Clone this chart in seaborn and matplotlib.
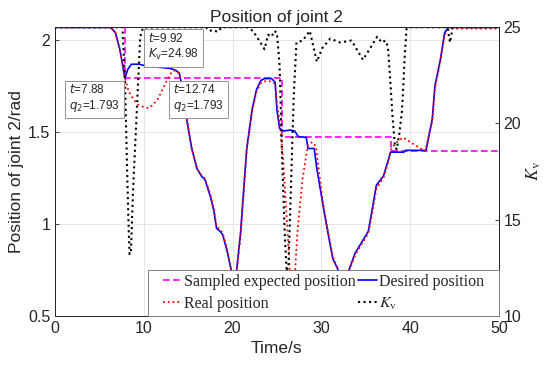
import matplotlib
matplotlib.use("Agg")
import matplotlib.pyplot as plt
from matplotlib.patches import Rectangle
import seaborn as sns
import numpy as np
import pandas as pd

# data
t_sampled = [0, 7.88, 7.88, 25.55, 25.55, 37.8, 37.8, 50]
q_sampled = [2.068, 2.068, 1.793, 1.793, 1.47, 1.47, 1.398, 1.398]

t_desired = [0, 6.3, 6.8, 7.3, 7.88, 8.2, 8.6, 9.5, 10.5, 12.0, 13.0, 13.6, 14.0, 14.3, 14.8,
             15.4, 16.0, 16.5, 16.9, 17.5, 17.9, 18.2, 18.6, 18.9, 19.4, 19.8, 20.1, 20.4,
             20.9, 21.6, 22.2, 22.7, 23.2, 23.6, 24.4, 24.8, 25.0, 25.3, 25.7, 26.5, 27.0,
             27.4, 28.3, 28.5, 29.2, 29.5, 30.2, 30.6, 31.3, 31.8, 32.3, 32.8, 33.2, 33.8,
             34.3, 35.3, 35.7, 36.2, 37.0, 37.5, 37.8, 39.3, 39.5, 41.8, 42.5, 42.8, 43.4,
             43.9, 44.3, 50]
q_desired = [2.068, 2.068, 2.04, 1.95, 1.793, 1.84, 1.868, 1.868, 1.855, 1.85, 1.845, 1.835,
             1.82, 1.75, 1.58, 1.41, 1.30, 1.26, 1.24, 1.15, 1.07, 0.975, 0.96, 0.94, 0.85,
             0.76, 0.70, 0.72, 0.95, 1.41, 1.62, 1.73, 1.78, 1.79, 1.79, 1.77, 1.62, 1.52,
             1.505, 1.51, 1.505, 1.475, 1.47, 1.41, 1.41, 1.30, 1.10, 0.99, 0.81, 0.76, 0.70,
             0.71, 0.76, 0.84, 0.88, 0.96, 1.07, 1.21, 1.26, 1.34, 1.39, 1.39, 1.40, 1.40,
             1.57, 1.75, 1.89, 2.04, 2.068, 2.068]

t_real = [0, 6.3, 6.8, 7.3, 7.88, 8.3, 8.8, 9.3, 10.0, 10.5, 11.0, 11.6, 12.2, 12.74, 13.2,
          13.6, 14.0, 14.3, 14.8, 15.4, 16.0, 16.5, 16.9, 17.5, 17.9, 18.2, 18.6, 18.9, 19.4,
          19.8, 20.1, 20.4, 20.9, 21.6, 22.2, 22.7, 23.2, 23.6, 24.4, 24.8, 25.0, 25.3, 25.7,
          26.2, 26.6, 26.9, 27.3, 27.9, 28.5, 29.0, 29.4, 29.7, 30.2, 30.6, 31.3, 31.8, 32.3,
          32.8, 33.2, 33.8, 34.3, 35.3, 35.7, 36.2, 37.0, 37.5, 37.8, 38.4, 39.2, 40.5, 41.7,
          42.5, 42.8, 43.4, 43.9, 44.4, 50]
q_real = [2.068, 2.068, 2.04, 1.95, 1.793, 1.72, 1.68, 1.65, 1.635, 1.63, 1.645, 1.68, 1.74,
          1.793, 1.83, 1.835, 1.815, 1.75, 1.58, 1.41, 1.30, 1.265, 1.245, 1.16, 1.08, 0.985,
          0.97, 0.95, 0.86, 0.76, 0.70, 0.71, 0.93, 1.40, 1.61, 1.72, 1.765, 1.775, 1.775,
          1.76, 1.65, 1.56, 1.35, 0.95, 0.62, 0.62, 0.95, 1.25, 1.43, 1.445, 1.42, 1.30, 1.11,
          1.00, 0.82, 0.765, 0.71, 0.71, 0.75, 0.83, 0.87, 0.95, 1.05, 1.19, 1.25, 1.33, 1.40,
          1.44, 1.47, 1.43, 1.395, 1.56, 1.74, 1.88, 2.03, 2.062, 2.062]

t_kv = [0, 7.6, 7.9, 8.1, 8.3, 8.4, 8.55, 8.8, 9.2, 9.6, 9.92, 17.0, 17.4, 17.8, 18.3, 18.8,
        21.6, 22.3, 23.0, 23.6, 24.0, 24.4, 24.7, 25.0, 25.3, 25.6, 25.9, 26.1, 26.3, 26.6,
        26.9, 27.2, 27.9, 28.7, 29.5, 30.1, 31.0, 32.1, 33.4, 34.7, 36.3, 36.8, 37.2, 37.5,
        37.8, 38.0, 38.3, 38.5, 38.8, 39.1, 39.4, 39.6, 39.8, 44.2, 44.5, 44.8, 50]
kv = [24.99, 24.99, 22.0, 18.0, 14.5, 13.2, 13.3, 16.6, 20.5, 24.5, 24.98, 24.99, 24.8, 24.85,
      24.75, 24.99, 24.99, 24.8, 24.3, 23.85, 24.6, 24.5, 24.8, 24.7, 23.0, 18.0, 14.0, 12.3,
      12.6, 17.0, 21.5, 24.2, 24.3, 24.8, 23.2, 23.9, 24.4, 24.2, 24.3, 23.3, 24.5, 24.2, 24.3,
      24.0, 22.0, 20.5, 18.8, 18.65, 19.5, 20.7, 23.5, 24.9, 24.99, 24.99, 24.2, 24.99, 24.99]

# data tips: (t, value, text, which axis, side of the box)
tips = [(7.88, 1.793, "$t$=7.88\n$q_2$=1.793", "left", "right"),
        (12.74, 1.793, "$t$=12.74\n$q_2$=1.793", "left", "left"),
        (9.92, 24.98, "$t$=9.92\n$K_{\\rm v}$=24.98", "right", "left")]

sns.set_style("white")
plt.rcParams['font.family'] = ['Liberation Sans', 'DejaVu Sans']
plt.rcParams['mathtext.fontset'] = 'stix'

fig, ax = plt.subplots(figsize=(5.5, 3.66), dpi=100)
fig.subplots_adjust(left=0.1, right=0.907, top=0.926, bottom=0.137)
ax2 = ax.twinx()

sns.lineplot(x=t_sampled, y=q_sampled, ax=ax, color='#ff00ff', lw=1.2, sort=False,
             estimator=None, label='Sampled expected position', legend=False)
ax.lines[-1].set_dashes([4, 2])
sns.lineplot(x=t_desired, y=q_desired, ax=ax, color='#0000ff', lw=1.2, sort=False,
             estimator=None, label='Desired position', legend=False)
sns.lineplot(x=t_real, y=q_real, ax=ax, color='#ff0000', lw=1.3, sort=False,
             estimator=None, label='Real position', legend=False)
ax.lines[-1].set_linestyle(':')
sns.lineplot(x=t_kv, y=kv, ax=ax2, color='black', lw=1.5, sort=False,
             estimator=None, label='$K_{\\rm v}$', legend=False)
ax2.lines[-1].set_linestyle(':')

ax.set_xlim(0, 50)
ax.set_ylim(0.5, 2.07)
ax2.set_ylim(10, 25)
ax.set_xticks([0, 10, 20, 30, 40, 50])
ax.set_yticks([0.5, 1, 1.5, 2])
ax.set_yticklabels(['0.5', '1', '1.5', '2'])
ax2.set_yticks([10, 15, 20, 25])
ax.grid(True, color='#e6e6e6', lw=0.7)
for a in (ax, ax2):
    a.tick_params(direction='in', length=3, labelsize=11.5, colors='#262626', width=0.6)
    for s in a.spines.values():
        s.set_color('#262626')
        s.set_linewidth(0.7)

ax.set_title('Position of joint 2', fontsize=12.5, pad=4)
ax.set_xlabel('Time/s', fontsize=12.5, labelpad=4)
ax.set_ylabel('Position of joint 2/rad', fontsize=12.5, labelpad=3)
ax2.set_ylabel('$K_{\\rm v}$', fontsize=13, labelpad=2)

# legend: white box in the lower right corner, entries centred in it
box_x0, box_h = 0.2095, 0.159
ax2.add_patch(Rectangle((box_x0, 0), 1 - box_x0, box_h, transform=ax2.transAxes,
                        fc='white', ec='#808080', lw=0.7, zorder=4, clip_on=False))
h1, l1 = ax.get_legend_handles_labels()
h2, l2 = ax2.get_legend_handles_labels()
handles = [h1[0], h1[2], h1[1], h2[0]]
labels = [l1[0], l1[2], l1[1], l2[0]]
leg = ax2.legend(handles, labels, ncol=2, loc='center',
                 bbox_to_anchor=(box_x0, 0, 1 - box_x0, box_h), borderaxespad=0,
                 prop={'family': 'Liberation Serif', 'size': 11.5}, handlelength=1.2,
                 handletextpad=0.15, columnspacing=0.1, frameon=False, borderpad=0,
                 labelspacing=0.35)
leg.set_zorder(6)

for tx, ty, txt, axis, side in tips:
    yy = ty if axis == "right" else 10 + (ty - 0.5) / 1.57 * 15
    dx = 5 if side == "left" else -5
    a = ax2.annotate(txt, xy=(tx, yy), xytext=(dx, -5), textcoords='offset pixels',
                     ha=side, va='top', fontsize=8.5, linespacing=1.15, multialignment='left',
                     bbox=dict(boxstyle='square,pad=0.38', fc='white', ec='#8c8c8c',
                               lw=0.7, alpha=0.95), zorder=7)
    a.set_math_fontfamily('dejavusans')

fig.savefig('out.png', dpi=100)
